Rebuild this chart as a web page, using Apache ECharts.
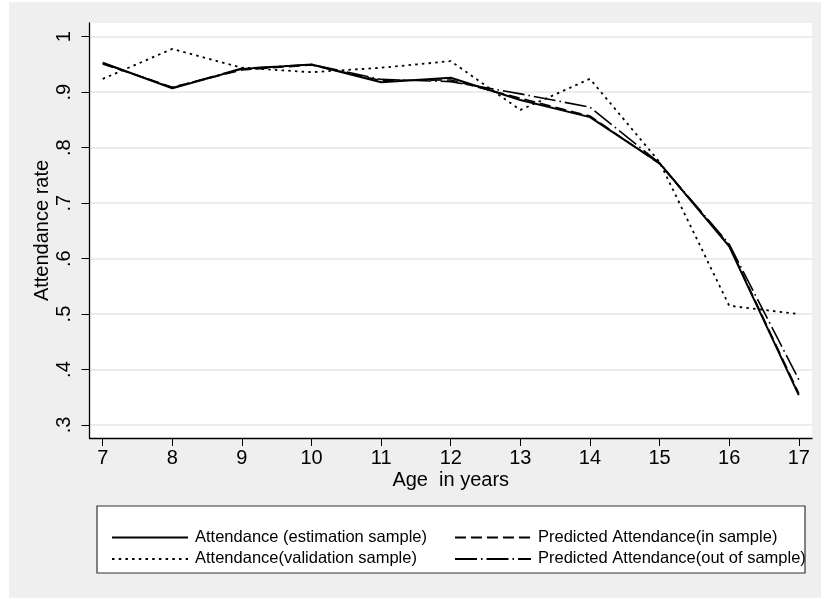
<!DOCTYPE html>
<html>
<head>
<meta charset="utf-8">
<script src="https://cdn.jsdelivr.net/npm/echarts@6/dist/echarts.min.js"></script>
<style>
  html, body { margin: 0; padding: 0; background: #ffffff; }
  #chart { position: absolute; left: 9px; top: 2px; width: 812px; height: 596px; }
</style>
</head>
<body>
<div id="chart"></div>
<script>
// Age groups on the horizontal axis
const ages = [7, 8, 9, 10, 11, 12, 13, 14, 15, 16, 17];

// Attendance rates by age
const estimationSample   = [0.953, 0.907, 0.942, 0.950, 0.918, 0.926, 0.886, 0.855, 0.772, 0.622, 0.354];
const predictedInSample  = [0.951, 0.909, 0.940, 0.949, 0.921, 0.922, 0.889, 0.857, 0.771, 0.624, 0.357];
const validationSample   = [0.924, 0.978, 0.944, 0.936, 0.944, 0.956, 0.868, 0.924, 0.774, 0.515, 0.500];
const predictedOutSample = [0.952, 0.908, 0.943, 0.950, 0.923, 0.919, 0.897, 0.873, 0.772, 0.626, 0.382];

// Tick positions
const xTicks = [7, 8, 9, 10, 11, 12, 13, 14, 15, 16, 17];
const yTicks = [0.3, 0.4, 0.5, 0.6, 0.7, 0.8, 0.9, 1];

const names = {
  est: 'Attendance (estimation sample)',
  inS: 'Predicted Attendance(in sample)',
  val: 'Attendance(validation sample)',
  outS: 'Predicted Attendance(out of sample)'
};

const FONT = '"Liberation Sans", Arial, Helvetica, sans-serif';

function pairs(vals) {
  return ages.map((a, i) => [a, vals[i]]);
}

function lineSeries(name, vals, width, dash, z) {
  return {
    name: name,
    type: 'line',
    data: pairs(vals),
    symbol: 'none',
    showSymbol: false,
    z: z,
    itemStyle: { color: '#000' },
    lineStyle: { color: '#000', width: width, type: dash },
    emphasis: { disabled: true },
    animation: false
  };
}

const legendCommon = {
  orient: 'vertical',
  top: 522,
  itemWidth: 76,
  itemHeight: 14,
  itemGap: 4.4,
  selectedMode: false,
  itemStyle: { opacity: 0 },
  textStyle: { fontFamily: FONT, fontSize: 16.5, color: '#000', lineHeight: 14, padding: [0, 0, 0, 2] }
};

const chart = echarts.init(document.getElementById('chart'), null, { renderer: 'canvas' });

chart.setOption({
  backgroundColor: '#efefef',
  animation: false,
  textStyle: { fontFamily: FONT },
  grid: {
    left: 80.5, right: 9, top: 21, bottom: 160,
    show: true, backgroundColor: '#ffffff', borderWidth: 0,
    containLabel: false
  },
  xAxis: {
    type: 'value',
    min: 6.81, max: 17.19,
    name: 'Age  in years',
    nameLocation: 'middle',
    nameGap: 32,
    nameMoveOverlap: false,
    nameTextStyle: { fontFamily: FONT, fontSize: 20, color: '#000' },
    axisLine: { show: true, onZero: false, lineStyle: { color: '#000', width: 1.3 } },
    axisTick: { show: true, length: 8, customValues: xTicks, lineStyle: { color: '#000', width: 1 } },
    axisLabel: { customValues: xTicks, margin: 10, fontSize: 20, color: '#000', fontFamily: FONT },
    splitLine: { show: false }
  },
  yAxis: {
    type: 'value',
    min: 0.2766, max: 1.0247,
    name: 'Attendance rate',
    nameLocation: 'middle',
    nameGap: 37,
    nameMoveOverlap: false,
    nameTextStyle: { fontFamily: FONT, fontSize: 20, color: '#000' },
    axisLine: { show: true, onZero: false, lineStyle: { color: '#000', width: 1.3 } },
    axisTick: { show: true, length: 8, customValues: yTicks, lineStyle: { color: '#000', width: 1 } },
    axisLabel: {
      customValues: yTicks,
      rotate: 90,
      margin: 15,
      fontSize: 20,
      color: '#000',
      fontFamily: FONT,
      formatter: function (v) {
        const s = (Math.round(v * 10) / 10).toString();
        return s.replace(/^0\./, '.');
      }
    },
    splitLine: { show: true, lineStyle: { color: '#e6e6e6', width: 1.5 } }
  },
  legend: [
    Object.assign({}, legendCommon, { left: 97, data: [names.est, names.val] }),
    Object.assign({}, legendCommon, { left: 440, data: [names.inS, names.outS] })
  ],
  graphic: [
    {
      type: 'rect',
      silent: true,
      z: 0,
      shape: { x: 88, y: 504, width: 708, height: 67 },
      style: { fill: '#ffffff', stroke: '#333333', lineWidth: 1.2 }
    }
  ],
  series: [
    lineSeries(names.val, validationSample, 1.8, [2.5, 4.2], 2),
    lineSeries(names.outS, predictedOutSample, 1.6, [22, 4, 1.5, 4], 3),
    lineSeries(names.inS, predictedInSample, 1.6, [11, 5], 4),
    lineSeries(names.est, estimationSample, 2, 'solid', 5)
  ]
});
</script>
</body>
</html>
